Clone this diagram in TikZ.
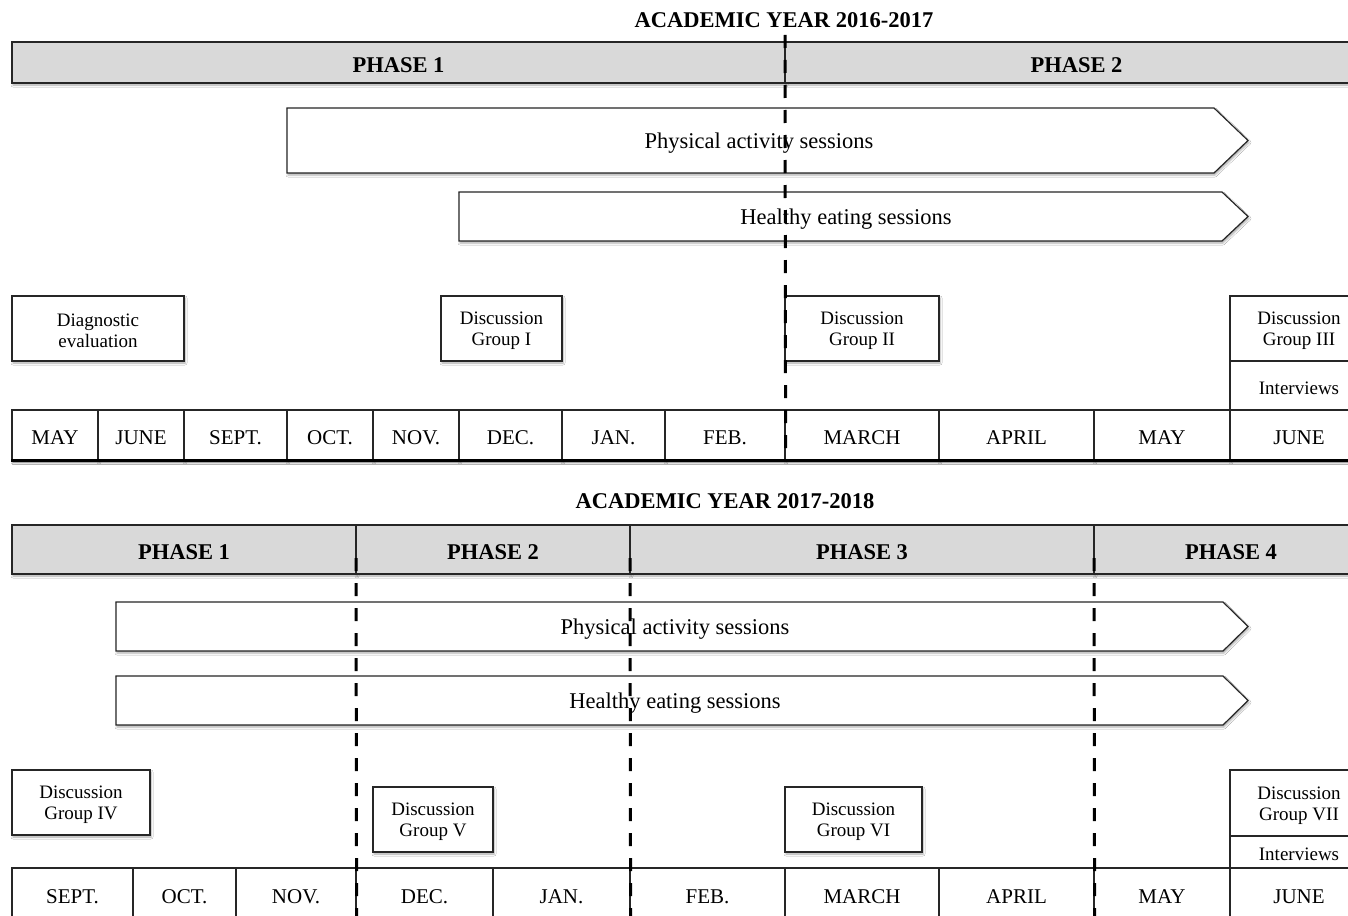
\documentclass[tikz,border=0pt]{standalone}
\usepackage{fontspec}
\setmainfont{Liberation Serif}
\usetikzlibrary{shadows.blur}

% box from corner (x1,y1) to corner (x2,y2), y grows downwards;
% its text (style "<box style> text") sits a little below the centre
\newcommand\mkbox[7]{%
  \node[#1,minimum width={#5-#3},minimum height={#6-#4}] (#2)
    at ({(#3+#5)/2},{(#4+#6)/2}) {};
  \node[#1 text] (#2-t) at ([yshift=-2.5pt]#2.center) {#7};}

\begin{document}
\begin{tikzpicture}[x=1pt,y=-1pt,
  shade/.style={blur shadow={shadow xshift=1pt,shadow yshift=-2pt,
      shadow blur radius=2pt,shadow opacity=35}},
  cellbox/.style={draw=black!85,line width=1.2pt,fill=white,shade,inner sep=0pt},
  monthbox/.style={cellbox},
  phasebox/.style={cellbox,fill=black!15},
  cellbox text/.style={align=center,inner sep=0pt,font=\fontsize{19}{21}\selectfont},
  monthbox text/.style={inner sep=0pt,font=\fontsize{21}{22}\selectfont},
  phasebox text/.style={inner sep=0pt,font=\bfseries\fontsize{22.5}{24}\selectfont},
  titletext/.style={font=\bfseries\fontsize{22.5}{24}\selectfont,inner sep=0pt},
  sessiontext/.style={font=\fontsize{22.5}{24}\selectfont,inner sep=0pt},
  sessionarrow/.style={draw=black!85,line width=1.2pt,fill=white,shade},
  divider/.style={line width=3pt,dash pattern=on 13pt off 12pt},
  baseline rule/.style={line width=3pt,shade}]

\clip (0,0) rectangle (1348,915);
\fill[white] (0,0) rectangle (1348,915);

%% ---------------- academic year 2016-2017 ----------------
\node[titletext] (title1) at (784,20.5) {ACADEMIC YEAR 2016-2017};

\mkbox{phasebox}{pa1}{12}{42}{785}{83}{PHASE 1}
\mkbox{phasebox}{pa2}{785}{42}{1368}{83}{PHASE 2}

% session arrows
\draw[sessionarrow] (287,108) -- (1214,108) -- (1248,140.5) -- (1214,173) -- (287,173) -- cycle;
\node[sessiontext] (pasA) at (759,143) {Physical activity sessions};
\draw[sessionarrow] (459,192) -- (1222,192) -- (1248,216.5) -- (1222,241) -- (459,241) -- cycle;
\node[sessiontext] (heA) at (846,219) {Healthy eating sessions};

% events
\mkbox{cellbox}{diag}{12}{296}{184}{361}{Diagnostic\\evaluation}
\mkbox{cellbox}{dg1}{441}{296}{562}{361}{Discussion\\Group I}
\mkbox{cellbox}{dg2}{785}{296}{939}{361}{Discussion\\Group II}
\mkbox{cellbox}{dg3}{1230}{296}{1368}{361}{Discussion\\Group III}
\mkbox{cellbox}{intA}{1230}{361}{1368}{410}{Interviews}

% months
\mkbox{monthbox}{ma1}{12}{410}{98}{460}{MAY}
\mkbox{monthbox}{ma2}{98}{410}{184}{460}{JUNE}
\mkbox{monthbox}{ma3}{184}{410}{287}{460}{SEPT.}
\mkbox{monthbox}{ma4}{287}{410}{373}{460}{OCT.}
\mkbox{monthbox}{ma5}{373}{410}{459}{460}{NOV.}
\mkbox{monthbox}{ma6}{459}{410}{562}{460}{DEC.}
\mkbox{monthbox}{ma7}{562}{410}{665}{460}{JAN.}
\mkbox{monthbox}{ma8}{665}{410}{785}{460}{FEB.}
\mkbox{monthbox}{ma9}{785}{410}{939}{460}{MARCH}
\mkbox{monthbox}{ma10}{939}{410}{1094}{460}{APRIL}
\mkbox{monthbox}{ma11}{1094}{410}{1230}{460}{MAY}
\mkbox{monthbox}{ma12}{1230}{410}{1368}{460}{JUNE}
\draw[baseline rule] (ma1.south west) -- (ma12.south east);

% phase boundary
\coordinate (cutA1) at (785,35);
\draw[divider] (cutA1) -- (ma8.south east);

%% ---------------- academic year 2017-2018 ----------------
\node[titletext] (title2) at (725,501) {ACADEMIC YEAR 2017-2018};

\mkbox{phasebox}{pb1}{12}{525}{356}{574}{PHASE 1}
\mkbox{phasebox}{pb2}{356}{525}{630}{574}{PHASE 2}
\mkbox{phasebox}{pb3}{630}{525}{1094}{574}{PHASE 3}
\mkbox{phasebox}{pb4}{1094}{525}{1368}{574}{PHASE 4}

% session arrows
\draw[sessionarrow] (116,602) -- (1223,602) -- (1248,626.5) -- (1223,651) -- (116,651) -- cycle;
\node[sessiontext] (pasB) at (675,629.5) {Physical activity sessions};
\draw[sessionarrow] (116,676) -- (1223,676) -- (1248,700.5) -- (1223,725) -- (116,725) -- cycle;
\node[sessiontext] (heB) at (675,703.5) {Healthy eating sessions};

% events
\mkbox{cellbox}{dg4}{12}{770}{150}{835}{Discussion\\Group IV}
\mkbox{cellbox}{dg5}{373}{787}{493}{852}{Discussion\\Group V}
\mkbox{cellbox}{dg6}{785}{787}{922}{852}{Discussion\\Group VI}
\mkbox{cellbox}{dg7}{1230}{770}{1368}{836}{Discussion\\Group VII}
\mkbox{cellbox}{intB}{1230}{836}{1368}{868}{Interviews}

% months
\mkbox{monthbox}{mb1}{12}{868}{133}{920}{SEPT.}
\mkbox{monthbox}{mb2}{133}{868}{236}{920}{OCT.}
\mkbox{monthbox}{mb3}{236}{868}{356}{920}{NOV.}
\mkbox{monthbox}{mb4}{356}{868}{493}{920}{DEC.}
\mkbox{monthbox}{mb5}{493}{868}{630}{920}{JAN.}
\mkbox{monthbox}{mb6}{630}{868}{785}{920}{FEB.}
\mkbox{monthbox}{mb7}{785}{868}{939}{920}{MARCH}
\mkbox{monthbox}{mb8}{939}{868}{1094}{920}{APRIL}
\mkbox{monthbox}{mb9}{1094}{868}{1230}{920}{MAY}
\mkbox{monthbox}{mb10}{1230}{868}{1368}{920}{JUNE}

% phase boundaries
\coordinate (cutB1) at (356,558);
\coordinate (cutB2) at (630,558);
\coordinate (cutB3) at (1094,558);
\draw[divider] (cutB1) -- (mb3.south east);
\draw[divider] (cutB2) -- (mb5.south east);
\draw[divider] (cutB3) -- (mb8.south east);
\end{tikzpicture}
\end{document}
